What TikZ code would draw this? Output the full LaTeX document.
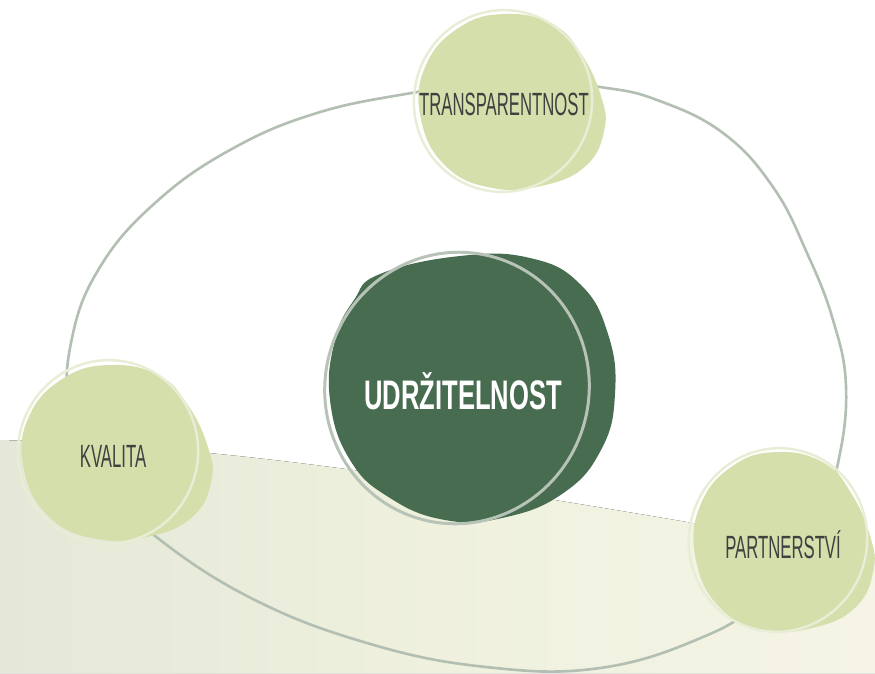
\documentclass[tikz,border=0pt]{standalone}
\usepackage{fontspec}
\setmainfont{Liberation Sans}[FakeStretch=0.52]
\newfontfamily\headfont{Liberation Sans}[FakeStretch=0.62]
\definecolor{leafgreen}{HTML}{D5DFAC}
\definecolor{leafline}{HTML}{E8EDD5}
\definecolor{forest}{HTML}{476C50}
\definecolor{forestline}{HTML}{B8C3B8}
\definecolor{ringgray}{HTML}{B4BFB4}
\definecolor{labelgray}{HTML}{3F4040}
\definecolor{creamL}{HTML}{E5E8D8}
\definecolor{creamM}{HTML}{EFF1DE}
\definecolor{creamR}{HTML}{F5F4E6}
\begin{document}
\begin{tikzpicture}[x=0.02cm, y=-0.02cm,
    ring/.style = {color=ringgray, line width=1.5pt},
    leaf/.style = {fill=leafgreen},
    leafring/.style = {color=leafline, line width=1.4pt},
    forestblob/.style = {fill=forest},
    forestring/.style = {color=forestline, line width=1.7pt},
    label/.style = {text=labelgray, font=\fontsize{18.3}{21}\selectfont},
    headlabel/.style = {text=white, font=\headfont\bfseries\fontsize{23.5}{27}\selectfont}]
    \useasboundingbox (0,0) rectangle (875,673);
    \fill[left color=creamL, right color=creamR, middle color=creamM] (0,440) .. controls (200,445) and (400,470) .. (875,555) -- (875,673) -- (0,673) -- cycle;

    \draw[ring] plot[smooth cycle, tension=0.7] coordinates {
        (417,92) (317,113) (230,150) (155,203) (100,267) (72,338) (70,410)
        (100,480) (150,532) (249,597) (367,643) (486,667) (600,668) (703,637) (760,600)
        (815,535) (838,463) (846,387) (833,320) (807,253) (773,187) (723,133) (657,100) (600,87)
        (510,78)};

    \foreach \cx/\cy/\rx/\ry/\ox/\oy/\orx/\ory in {
        511/101/93/87/503/101/89/91,
        116/452/95/87/108/452/90/92,
        783/541/90/89/778/540/89/92} {
        \fill[leaf, shift={(\cx,\cy)}, xscale=\rx, yscale=\ry] plot[smooth cycle, tension=0.75] coordinates {
            (-0.05,-1) (0.45,-0.88) (0.75,-0.55) (0.97,-0.05) (1,0.35) (0.8,0.75) (0.35,0.97)
            (-0.2,1) (-0.7,0.75) (-0.97,0.2) (-0.92,-0.4) (-0.55,-0.85)};
        \draw[leafring] (\ox,\oy) ellipse[x radius=\orx, y radius=\ory, rotate=-15];
    }

    \fill[forestblob] plot[smooth cycle, tension=0.75] coordinates {
        (380,274) (460,256) (530,258) (580,284) (608,334) (615,394) (601,450) (562,494)
        (502,518) (445,520) (390,498) (350,460) (330,400) (335,340) (354,300)};
    \draw[forestring] (457,388) ellipse[x radius=132, y radius=136, rotate=-15];

    \node[label] (transp) at (504,104) {TRANSPARENTNOST};
    \node[label] (kval) at (113,456) {KVALITA};
    \node[label] (partn) at (783,545) {PARTNERSTVÍ};
    \node[headlabel] (udrz) at (463,391) {UDRŽITELNOST};
\end{tikzpicture}
\end{document}
